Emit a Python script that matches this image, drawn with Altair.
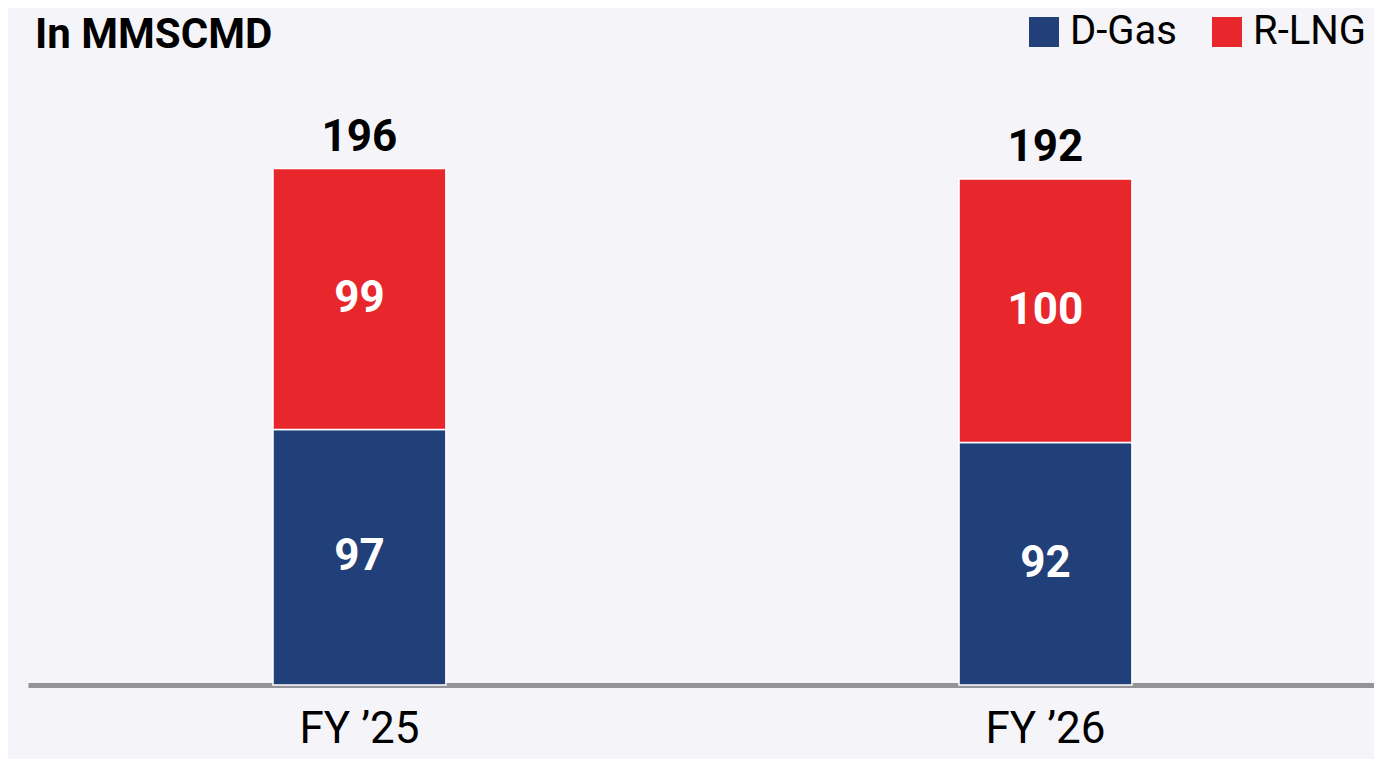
import altair as alt
import pandas as pd

categories = ["FY ’25", "FY ’26"]
series = ["D-Gas", "R-LNG"]
dgas = [97, 92]
rlng = [99, 100]
colors = ["#213F78", "#E8272D"]

rows = []
for i, c in enumerate(categories):
    rows.append({"year": c, "series": series[0], "value": dgas[i], "ord": 0})
    rows.append({"year": c, "series": series[1], "value": rlng[i], "ord": 1})
df = pd.DataFrame(rows)

FONT = "Roboto"
yscale = alt.Scale(domain=[0, 222], nice=False, zero=True)
xenc = alt.X(
    "year:N",
    sort=categories,
    scale=alt.Scale(paddingInner=0.748, paddingOuter=0.355, align=0.503),
    axis=alt.Axis(
        title=None, labelAngle=0, labelFont=FONT, labelFontSize=44,
        labelColor="black", ticks=False, labelPadding=22,
        domainColor="#939398", domainWidth=5, grid=False,
    ),
)

base = alt.Chart(df)

bars = base.mark_bar(stroke="white", strokeWidth=1.5).encode(
    x=xenc,
    y=alt.Y("value:Q", stack="zero", scale=yscale, axis=None),
    color=alt.Color(
        "series:N",
        scale=alt.Scale(domain=series, range=colors),
        legend=alt.Legend(
            orient="none", legendX=996, legendY=-88, direction="horizontal",
            title=None, symbolType="square", symbolSize=900, symbolStrokeWidth=0,
            labelFont=FONT, labelFontSize=40, labelColor="black",
            labelOffset=6, columnPadding=30, padding=0, offset=0,
        ),
    ),
    order=alt.Order("ord:Q"),
)

seg_labels = base.transform_stack(
    stack="value", groupby=["year"], sort=[alt.SortField("ord")], as_=["y0", "y1"]
).transform_calculate(mid="(datum.y0 + datum.y1) / 2").mark_text(
    font=FONT, fontSize=44, fontWeight="bold", color="white", baseline="middle"
).encode(
    x=alt.X("year:N", sort=categories),
    y=alt.Y("mid:Q", scale=yscale),
    text=alt.Text("value:Q"),
)

totals = base.transform_aggregate(
    total="sum(value)", groupby=["year"]
).mark_text(
    font=FONT, fontSize=44, fontWeight="bold", color="black", baseline="alphabetic", dy=-18
).encode(
    x=alt.X("year:N", sort=categories),
    y=alt.Y("total:Q", scale=yscale),
    text=alt.Text("total:Q"),
)

title = alt.Chart(pd.DataFrame({"t": ["In MMSCMD"]})).mark_text(
    font=FONT, fontSize=42, fontWeight="bold", color="black",
    align="left", baseline="alphabetic"
).encode(x=alt.value(7), y=alt.value(-52), text="t:N")

chart = alt.layer(bars, seg_labels, totals, title).properties(
    width=1346, height=585,
    background="#F5F5F9",
    padding={"left": 20, "top": 92, "right": 0, "bottom": 74},
    autosize=alt.AutoSizeParams(type="none"),
).configure_view(stroke=None)

chart.save("out.html", embed_options={"renderer": "svg", "actions": False})
